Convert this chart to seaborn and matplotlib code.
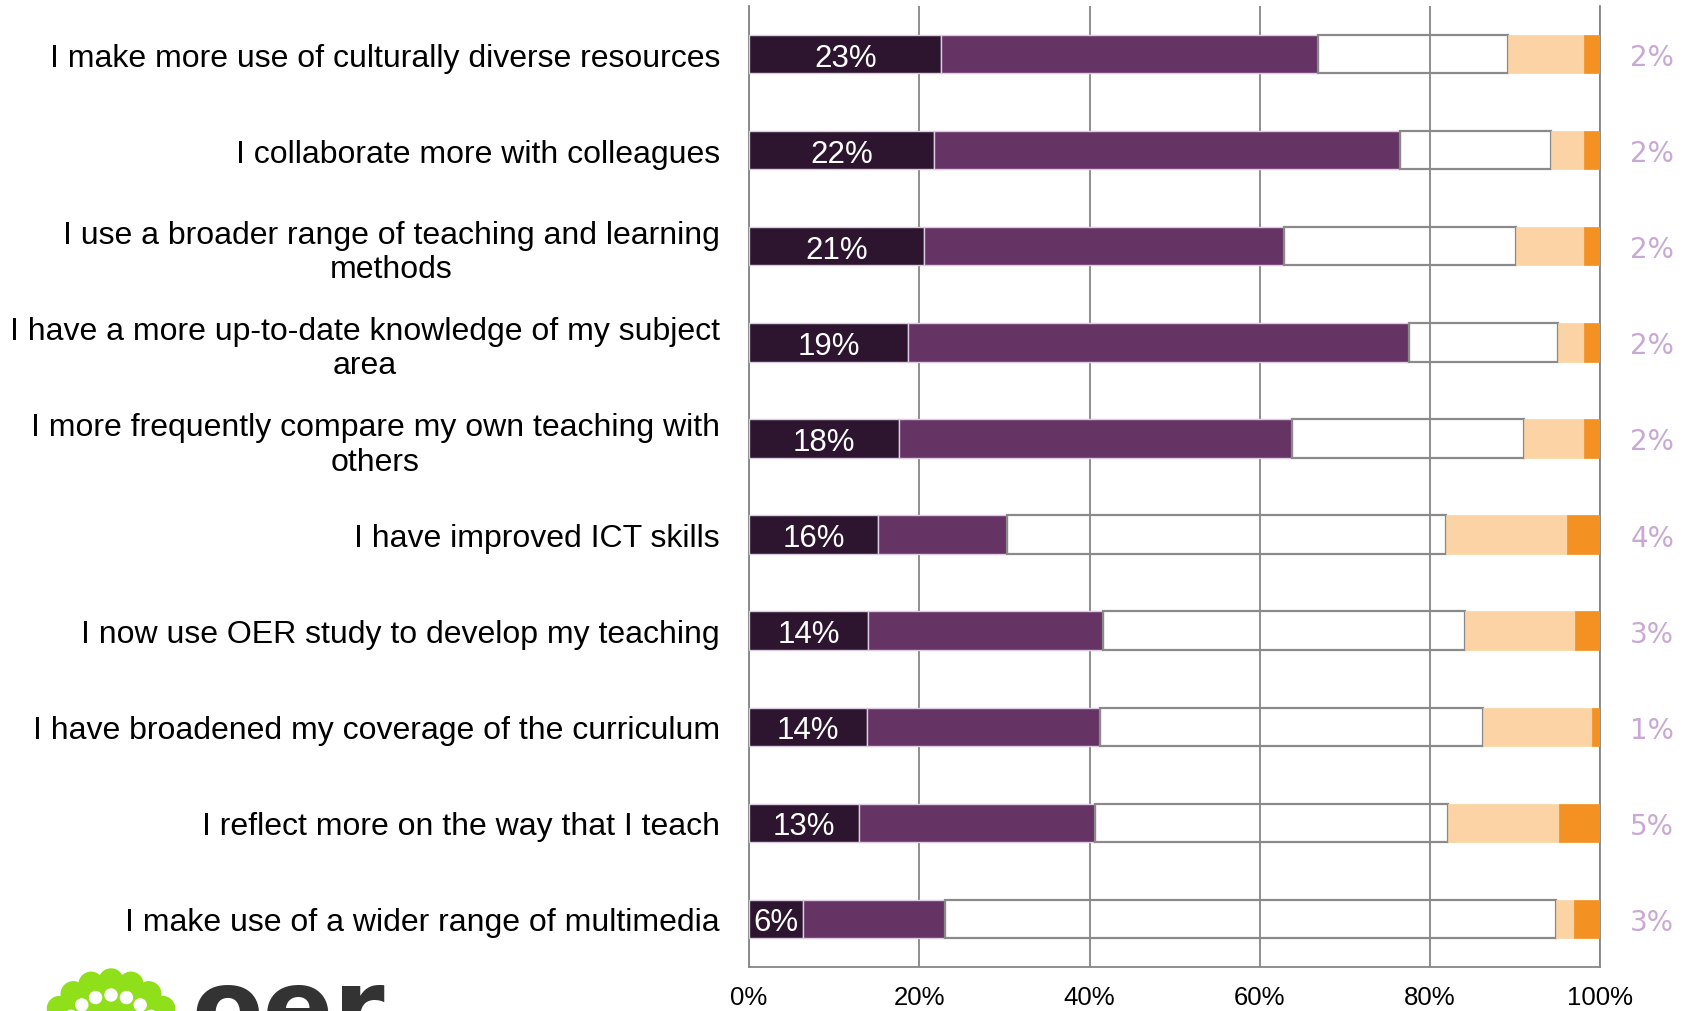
import numpy as np
import pandas as pd
import matplotlib
matplotlib.use('Agg')
import matplotlib.pyplot as plt
import seaborn as sns
from matplotlib.patches import Circle
from matplotlib.transforms import IdentityTransform

# Survey statements (top to bottom)
categories = [
    "I make more use of culturally diverse resources",
    "I collaborate more with colleagues",
    "I use a broader range of teaching and learning\nmethods",
    "I have a more up-to-date knowledge of my subject\narea",
    "I more frequently compare my own teaching with\nothers",
    "I have improved ICT skills",
    "I now use OER study to develop my teaching",
    "I have broadened my coverage of the curriculum",
    "I reflect more on the way that I teach",
    "I make use of a wider range of multimedia",
]

# Segment widths in percent
strongly_agree = [22.6, 21.7, 20.6, 18.7, 17.6, 15.2, 14.0, 13.8, 12.9, 6.3]
agree = [44.2, 54.8, 42.2, 58.8, 46.2, 15.1, 27.6, 27.4, 27.7, 16.7]
neutral = [22.4, 17.7, 27.3, 17.6, 27.3, 51.6, 42.5, 45.0, 41.5, 71.8]
disagree = [8.9, 3.9, 8.0, 3.0, 7.0, 14.2, 13.0, 12.9, 13.1, 2.1]
strongly_disagree = [1.9, 1.9, 1.9, 1.9, 1.9, 3.9, 2.9, 0.9, 4.8, 3.1]

# Printed labels
agree_labels = ["23%", "22%", "21%", "19%", "18%", "16%", "14%", "14%", "13%", "6%"]
disagree_labels = ["2%", "2%", "2%", "2%", "2%", "4%", "3%", "1%", "5%", "3%"]

x_ticks = [0, 20, 40, 60, 80, 100]

sns.set_style('white')
plt.rcParams['font.family'] = ['Liberation Sans', 'DejaVu Sans']

fig = plt.figure(figsize=(16.94, 10.12), dpi=100)
ax = fig.add_axes([0.4422, 0.0435, 0.5024, 0.9496])

segments = [
    (strongly_agree, dict(color='#2d1530', edgecolor='#dccbe0', linewidth=1.0)),
    (agree, dict(color='#653465', edgecolor='#dccbe0', linewidth=1.0)),
    (neutral, dict(color='#8a8a8a', fill=False, linewidth=1.6)),
    (disagree, dict(color='#fbd3a5', edgecolor='#fbd3a5', linewidth=0.5)),
    (strongly_disagree, dict(color='#f39123', edgecolor='#f39123', linewidth=0.5)),
]

lefts = np.zeros(len(categories))
for values, style in segments:
    df = pd.DataFrame({'statement': categories, 'value': values})
    n_before = len(ax.patches)
    sns.barplot(data=df, x='value', y='statement', order=categories, orient='h',
                width=0.4, saturation=1, errorbar=None, ax=ax, zorder=3, **style)
    # stack: move each new bar to start where the previous segment ended
    for patch, left in zip(ax.patches[n_before:], lefts):
        patch.set_x(left)
    lefts = lefts + np.array(values)

# labels inside the dark segment
for i, (v, lab) in enumerate(zip(strongly_agree, agree_labels)):
    ax.text(v / 2, i, lab, ha='center', va='center_baseline', color='white',
            fontsize=22.5, zorder=5)

# labels to the right of the bars
for i, lab in enumerate(disagree_labels):
    ax.text(106.1, i, lab, ha='center', va='center_baseline', color='#c9a9d3', fontsize=20,
            family=['DejaVu Sans'], clip_on=False)

ax.set_xlim(0, 100)
ax.set_ylim(len(categories) - 0.5, -0.5)
ax.set_xlabel('')
ax.set_ylabel('')

ax.set_xticks(x_ticks)
ax.set_xticklabels([f'{t}%' for t in x_ticks], fontsize=18.5)
ax.xaxis.grid(True, color='#868686', linewidth=1.3, zorder=0)
ax.yaxis.grid(False)
ax.set_axisbelow(True)

ax.set_yticks(range(len(categories)))
ax.set_yticklabels(categories, fontsize=23, linespacing=1.2)
for t in ax.get_yticklabels():
    t.set_multialignment('center')
ax.set_yticks(np.arange(-0.5, len(categories)), minor=True)

ax.tick_params(axis='y', which='major', length=0, pad=21, labelcolor='black')
ax.tick_params(axis='y', which='minor', length=6, width=1.3, color='#868686', direction='out')
ax.tick_params(axis='x', which='major', length=6, width=1.3, color='#868686', direction='out',
               pad=7, labelcolor='black')

for side in ['left', 'bottom', 'right']:
    ax.spines[side].set_color('#868686')
    ax.spines[side].set_linewidth(1.3)
ax.spines['top'].set_visible(False)

# cropped logo in the bottom-left corner
ident = IdentityTransform()
fig.add_artist(Circle((111, -32), 64, transform=ident, color='#8fe01a', zorder=1))
for ang in np.linspace(15, 165, 9):
    a = np.radians(ang)
    fig.add_artist(Circle((111 + 62 * np.cos(a), -32 + 62 * np.sin(a)), 12,
                          transform=ident, color='#8fe01a', zorder=1))
    fig.add_artist(Circle((111 + 48 * np.cos(a), -32 + 48 * np.sin(a)), 6,
                          transform=ident, color='white', zorder=2))
fig.text(0.113, -0.031, 'oer', fontsize=75, fontweight='bold', color='#333333',
         family=['DejaVu Sans'], va='baseline', ha='left')

fig.savefig('out.png', dpi=100)
